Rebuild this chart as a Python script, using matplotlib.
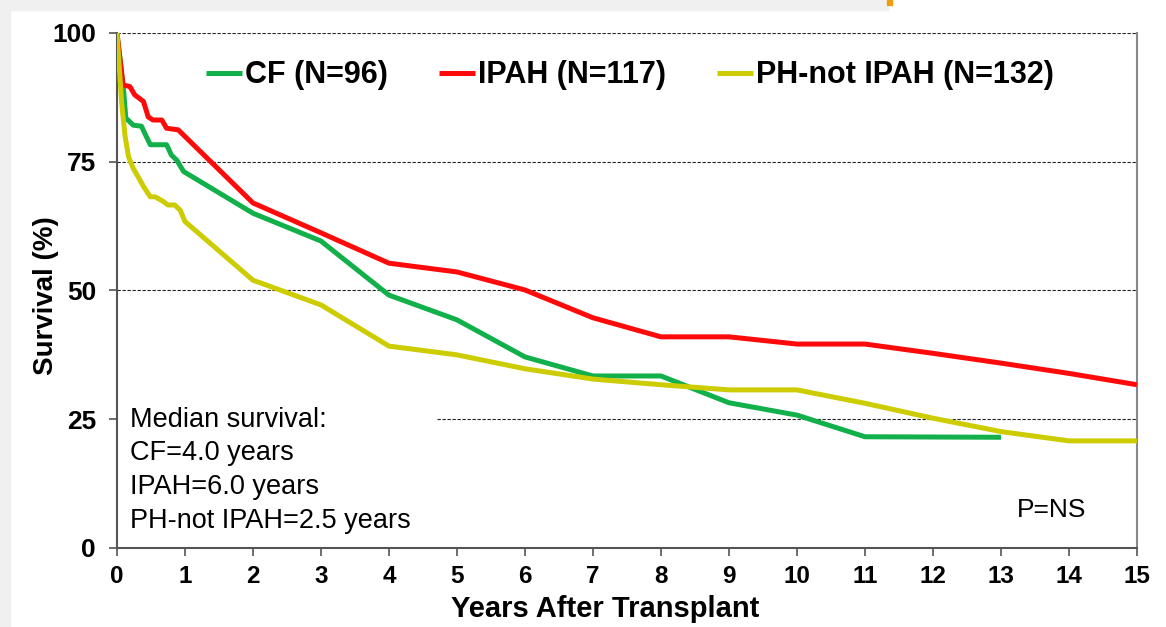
import matplotlib.pyplot as plt
from matplotlib.patches import Rectangle

plt.rcParams['font.family'] = ['Liberation Sans', 'DejaVu Sans']

# Kaplan-Meier style survival curves
cf_years = [0, 0.10, 0.13, 0.24, 0.36, 0.41, 0.49, 0.73, 0.80, 0.88, 0.98,
            2, 3, 4, 5, 6, 7, 8, 9, 10, 11, 13]
cf_surv = [100, 88.5, 83.5, 82.1, 81.9, 80.5, 78.3, 78.3, 76.3, 75.3, 73.1,
           65.0, 59.6, 49.1, 44.3, 37.1, 33.4, 33.4, 28.2, 25.8, 21.6, 21.5]

ipah_years = [0, 0.09, 0.19, 0.26, 0.39, 0.46, 0.53, 0.66, 0.73, 0.90,
              2, 3, 4, 5, 6, 7, 8, 9, 10, 11, 12, 13, 14, 15]
ipah_surv = [100, 89.9, 89.6, 88.0, 86.7, 83.7, 83.1, 83.1, 81.5, 81.2,
             67.0, 61.2, 55.3, 53.6, 50.1, 44.7, 41.0, 41.0, 39.6, 39.6, 37.8, 35.9, 33.9, 31.7]

ph_years = [0, 0.04, 0.07, 0.12, 0.17, 0.24, 0.31, 0.39, 0.49, 0.56, 0.68, 0.75, 0.85, 0.93, 1.0,
            2, 3, 4, 5, 6, 7, 8, 9, 10, 11, 12, 13, 14, 15]
ph_surv = [100, 92.2, 86.3, 79.9, 76.0, 73.7, 72.1, 70.2, 68.2, 68.2, 67.3, 66.6, 66.6, 65.6, 63.4,
           52.0, 47.2, 39.2, 37.5, 34.8, 32.8, 31.7, 30.7, 30.7, 28.1, 25.2, 22.6, 20.8, 20.8]

labels = ['CF (N=96)', 'IPAH (N=117)', 'PH-not IPAH (N=132)']
colors = ['#12b04a', '#ff0a0a', '#cccc00']

fig = plt.figure(figsize=(11.66, 6.27), dpi=100)
# light grey frame remnants of the slide
fig.patches.append(Rectangle((0, 0.984), 0.762, 0.016, transform=fig.transFigure,
                             color='#f0f0f0', zorder=0))
fig.patches.append(Rectangle((0, 0), 0.009, 1, transform=fig.transFigure,
                             color='#f0f0f0', zorder=0))
fig.patches.append(Rectangle((0.761, 0.992), 0.004, 0.008, transform=fig.transFigure,
                             color='#f39c12', zorder=0))
ax = fig.add_axes([0.1003, 0.126, 0.8748, 0.8214])

for xs, ys, lab, c in zip([cf_years, ipah_years, ph_years],
                          [cf_surv, ipah_surv, ph_surv], labels, colors):
    ax.plot(xs, ys, color=c, lw=3.6, label=lab, solid_capstyle='butt', zorder=3)

# dashed reference lines
for yv in [100, 75, 50]:
    ax.axhline(yv, color='#222222', lw=0.8, ls=(0, (3, 1.5)), zorder=1)
ax.axhline(25, xmin=4.7 / 15, color='#222222', lw=0.8, ls=(0, (3, 1.5)), zorder=1)

ax.set_xlim(0, 15)
ax.set_ylim(0, 100)
ax.set_xticks(range(0, 16))
ax.set_yticks([0, 25, 50, 75, 100])
ax.tick_params(length=6, width=1.2, color='#555555', direction='out')
ax.tick_params(axis='x', labelsize=17.5, pad=6)
ax.tick_params(axis='y', labelsize=19, pad=9)
for t in ax.get_xticklabels() + ax.get_yticklabels():
    t.set_fontweight('bold')

ax.spines['top'].set_visible(False)
ax.spines['left'].set_color('#555555')
ax.spines['bottom'].set_color('#555555')
ax.spines['right'].set_color('#888888')
for s in ['left', 'bottom', 'right']:
    ax.spines[s].set_linewidth(1.5)

ax.set_xlabel('Years After Transplant', fontsize=21, fontweight='bold')
ax.xaxis.set_label_coords(0.479, -0.092)
ax.set_ylabel('Survival (%)', fontsize=20, fontweight='bold')
ax.yaxis.set_label_coords(-0.057, 0.49)

ax.legend(loc='center', bbox_to_anchor=(0.503, 0.918), ncol=3, frameon=False,
          prop={'size': 22, 'weight': 'bold'}, handlelength=1.18, handletextpad=0.1,
          columnspacing=1.67)

ax.text(0.19, 27.4, 'Median survival:\nCF=4.0 years\nIPAH=6.0 years\nPH-not IPAH=2.5 years',
        fontsize=19.5, va='top', ha='left', linespacing=1.38)
ax.text(13.74, 7.4, 'P=NS', fontsize=19, ha='center', va='center')

fig.savefig('out.png', dpi=100)
